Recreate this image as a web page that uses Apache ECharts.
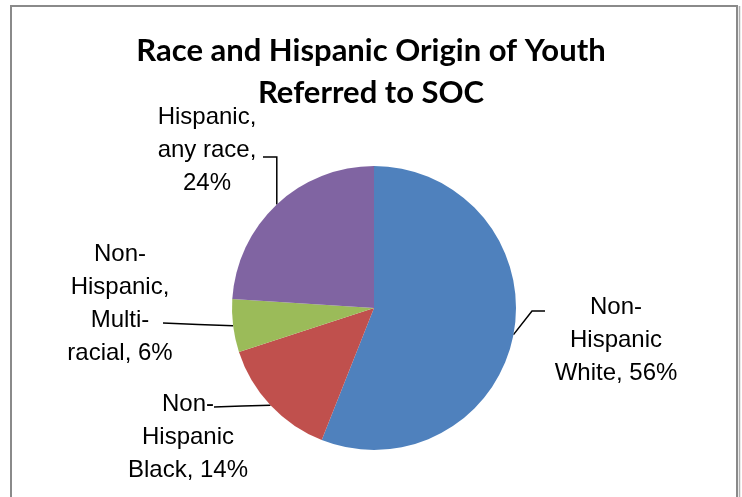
<!DOCTYPE html>
<html>
<head>
<meta charset="utf-8">
<script src="https://cdn.jsdelivr.net/npm/echarts@6/dist/echarts.min.js"></script>
<style>
  html, body { margin: 0; padding: 0; background: #ffffff; }
  #chart { width: 742px; height: 497px; }
</style>
</head>
<body>
<div id="chart"></div>
<script>
// Share of youth referred to SOC, by race and Hispanic origin (percent)
const categories = [
  'Non-\nHispanic\nWhite, 56%',
  'Non-\nHispanic\nBlack, 14%',
  'Non-\nHispanic,\nMulti-\nracial, 6%',
  'Hispanic,\nany race,\n24%'
];
const values = [56, 14, 6, 24];
const colors = ['#4F81BD', '#C0504D', '#9BBB59', '#8064A2'];

// Pie geometry
const CX = 374, CY = 308, R = 142;

// Label block centres and the point where each leader line meets its label
const labelPlace = [
  { x: 616, y: 340, end: [545, 311], stub: -13 },
  { x: 188, y: 437, end: [214, 407], stub: 0 },
  { x: 120, y: 304, end: [163, 323], stub: 0 },
  { x: 207, y: 150, end: [263, 157], stub: 'vertical' }
];

const total = values.reduce((a, b) => a + b, 0);
function edgePoint(i) {
  let before = 0;
  for (let k = 0; k < i; k++) before += values[k];
  const mid = (before + values[i] / 2) / total * 2 * Math.PI; // clockwise from top
  return [CX + R * Math.sin(mid), CY - R * Math.cos(mid)];
}

const chart = echarts.init(document.getElementById('chart'), null, { renderer: 'canvas' });

chart.setOption({
  backgroundColor: '#ffffff',
  animation: false,
  title: {
    text: 'Race and Hispanic Origin of Youth\nReferred to SOC',
    left: 'center',
    top: 25,
    textStyle: {
      fontFamily: 'Lato',
      fontWeight: 'bold',
      fontSize: 31,
      lineHeight: 42,
      color: '#000000'
    }
  },
  graphic: [{
    type: 'rect',
    shape: { x: 11, y: 6, width: 726, height: 520 },
    style: { fill: 'none', stroke: '#8a8a8a', lineWidth: 2 },
    z: 100
  }, {
    type: 'line',
    shape: { x1: 739.5, y1: 6, x2: 739.5, y2: 526 },
    style: { stroke: '#b0b0b0', lineWidth: 1.5 },
    z: 100
  }],
  series: [{
    type: 'pie',
    center: [CX, CY],
    radius: R,
    startAngle: 90,
    clockwise: true,
    avoidLabelOverlap: false,
    data: categories.map((name, i) => ({
      name: name,
      value: values[i],
      itemStyle: { color: colors[i] }
    })),
    itemStyle: { borderWidth: 0 },
    emphasis: { disabled: true },
    label: {
      show: true,
      formatter: '{b}',
      fontFamily: 'Liberation Sans',
      fontSize: 24,
      lineHeight: 33,
      color: '#000000',
      align: 'center'
    },
    labelLine: {
      show: true,
      smooth: false,
      lineStyle: { color: '#000000', width: 1.5 }
    },
    labelLayout: function (params) {
      const i = params.dataIndex;
      const p = labelPlace[i];
      const edge = edgePoint(i);
      let pts;
      if (p.stub === 'vertical') {
        pts = [edge, [edge[0], p.end[1]], p.end];
      } else if (p.stub) {
        pts = [edge, [p.end[0] + p.stub, p.end[1]], p.end];
      } else {
        pts = [edge, [(edge[0] + p.end[0]) / 2, (edge[1] + p.end[1]) / 2], p.end];
      }
      return {
        x: p.x,
        y: p.y,
        align: 'center',
        verticalAlign: 'middle',
        labelLinePoints: pts
      };
    }
  }]
});
</script>
</body>
</html>
